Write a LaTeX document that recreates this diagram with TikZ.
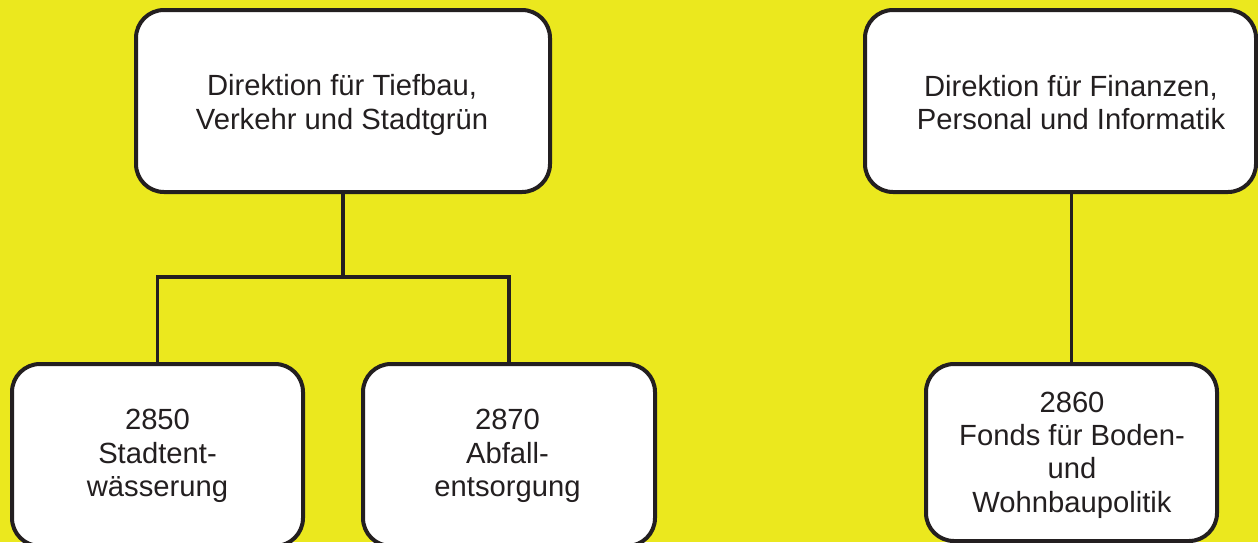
\documentclass[tikz,border=0pt]{standalone}
\usepackage{fontspec}
\setmainfont{Liberation Sans}
\usepackage{tikz}
\definecolor{orgyellow}{RGB}{235,232,30}
\definecolor{orgink}{RGB}{35,31,32}
\newcommand{\orgfont}{\fontsize{29.2}{33.3}\selectfont}

\begin{document}
\begin{tikzpicture}[x=1pt,y=-1pt,
    orgbox/.style={draw=orgink,line width=4pt,fill=white,rounded corners=28pt,
      minimum height=182pt},
    orgtext/.style={font=\orgfont,text=orgink,align=center,inner sep=0pt},
    link/.style={draw=orgink,line width=3.6pt}]
  \useasboundingbox (0,0) rectangle (1258,542);
  \clip (0,0) rectangle (1258,542);
  \fill[orgyellow] (0,0) rectangle (1258,542);

  % directorates
  \node[orgbox,minimum width=414pt] (tief) at (343,101)    {};
  \node[orgbox,minimum width=391pt] (fin)  at (1060.5,101) {};
  % units
  \node[orgbox,minimum width=291pt] (stadt)  at (157.5,455) {};
  \node[orgbox,minimum width=292pt] (abfall) at (509,455)   {};
  \node[orgbox,minimum width=291pt,minimum height=177pt] (fonds) at (1071.5,452.5) {};

  \node[orgtext] (tief-t)   at (342,105)     {Direktion für Tiefbau,\\Verkehr und Stadtgrün};
  \node[orgtext] (fin-t)    at (1071,102.5)  {Direktion für Finanzen,\\Personal und Informatik};
  \node[orgtext] (stadt-t)  at (157.5,456)   {2850\\Stadtent-\\wässerung};
  \node[orgtext] (abfall-t) at (507.5,456)   {2870\\Abfall-\\entsorgung};
  \node[orgtext] (fonds-t)  at (1072,455)    {2860\\Fonds für Boden-\\und\\Wohnbaupolitik};

  % connectors
  \coordinate (fork) at (343,277);
  \draw[link] (tief.south) -- (fork);
  \draw[link] (stadt.north) |- (fork) -| (abfall.north);
  \draw[link] (fonds.north) -- (fonds.north |- fin.south);
\end{tikzpicture}
\end{document}
